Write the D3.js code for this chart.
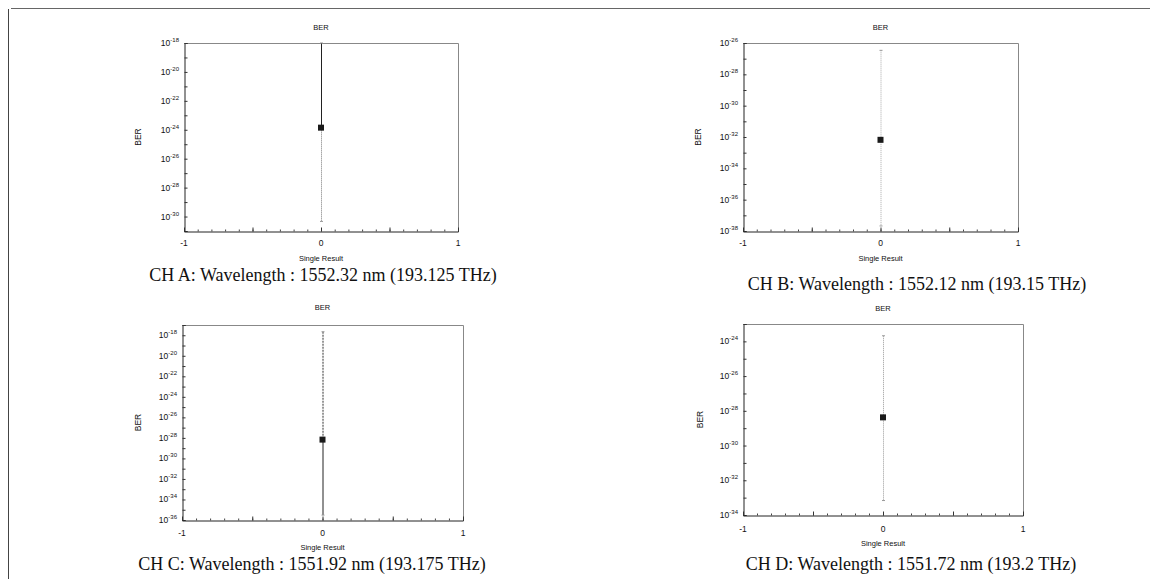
<!DOCTYPE html>
<html>
<head>
<meta charset="utf-8">
<script src="https://cdn.jsdelivr.net/npm/d3@7"></script>
<style>
  html, body { margin: 0; padding: 0; background: #fff; }
  svg { display: block; }
  .lbl { font-family: Arial, "Liberation Sans", sans-serif; fill: #111; }
  .cap { font-family: "Liberation Serif", "Times New Roman", serif; fill: #111; }
</style>
</head>
<body>
<svg id="chart" width="1157" height="579"></svg>
<script>
// Four channels, one BER measurement each, with its spread as an error bar
const channels = ["CH A", "CH B", "CH C", "CH D"];
const wavelengths = ["1552.32", "1552.12", "1551.92", "1551.72"];
const frequencies = ["193.125", "193.15", "193.175", "193.2"];
const xValue = [0, 0, 0, 0];
const berValues = [1.4e-24, 6.6e-33, 6.8e-29, 4.2e-29];
const berUpper = [1e-18, 3.4e-27, 2.2e-18, 2.1e-24];
const berLower = [4.6e-31, 2.1e-38, 3.0e-36, 6.8e-34];

// Log-axis extents (powers of ten) and the labelled exponents of each panel
const yMinExp = [-31, -38, -36, -34];
const yMaxExp = [-18, -26, -17, -23];
const yLabelExpsA = [-30, -28, -26, -24, -22, -20, -18];
const yLabelExpsB = [-38, -36, -34, -32, -30, -28, -26];
const yLabelExpsC = [-36, -34, -32, -30, -28, -26, -24, -22, -20, -18];
const yLabelExpsD = [-34, -32, -30, -28, -26, -24];
const xTickLabels = [-1, 0, 1];

// Plot boxes
const boxes = [
  { l: 184, r: 458, t: 43, b: 231, title: 30, tick: 246, xt: 261, ylx: 141, cx: 323, cy: 281 },
  { l: 743, r: 1018, t: 43, b: 231, title: 30, tick: 246, xt: 261, ylx: 701, cx: 917, cy: 290 },
  { l: 182, r: 463, t: 325, b: 520, title: 310, tick: 536, xt: 550, ylx: 141, cx: 312, cy: 570 },
  { l: 743, r: 1023, t: 324, b: 515, title: 311, tick: 532, xt: 546, ylx: 703, cx: 911, cy: 570 }
];
const barStyles = [
  { upper: "#222", lower: "#777", dashU: null, dashL: "1,1" },
  { upper: "#aaa", lower: "#aaa", dashU: "1,1", dashL: "1,1" },
  { upper: "#333", lower: "#222", dashU: "2,1", dashL: null },
  { upper: "#999", lower: "#999", dashU: "1,1", dashL: "1,1" }
];
const labelSets = [yLabelExpsA, yLabelExpsB, yLabelExpsC, yLabelExpsD];

const svg = d3.select("#chart");

// Page frame
svg.append("line").attr("x1", 11).attr("x2", 1150).attr("y1", 8.5).attr("y2", 8.5)
  .attr("stroke", "#666").attr("stroke-width", 1);
svg.append("line").attr("x1", 8.5).attr("x2", 8.5).attr("y1", 9).attr("y2", 579)
  .attr("stroke", "#444").attr("stroke-width", 1);

channels.forEach((ch, i) => {
  const bx = boxes[i];
  const g = svg.append("g");
  const x = d3.scaleLinear().domain([-1, 1]).range([bx.l, bx.r]);
  const y = d3.scaleLog().domain([10 ** yMinExp[i], 10 ** yMaxExp[i]]).range([bx.b, bx.t]);

  // top and right border
  g.append("path")
    .attr("d", `M${bx.l},${bx.t + 0.5}H${bx.r + 0.5}V${bx.b}`)
    .attr("fill", "none").attr("stroke", "#888").attr("stroke-width", 1);

  // y axis: every decade gets a small inward tick
  const allExps = d3.range(yMinExp[i], yMaxExp[i] + 1);
  const yMinor = d3.axisLeft(y).tickValues(allExps.map(e => 10 ** e)).tickSize(-3).tickFormat("");
  const yAxis = g.append("g").attr("transform", `translate(${bx.l + 0.5},0)`).call(yMinor);
  yAxis.select(".domain").attr("stroke", "#222");
  yAxis.selectAll(".tick line").attr("stroke", "#333");

  // y tick labels as 10 with a superscript exponent
  labelSets[i].forEach(e => {
    const t = g.append("text").attr("class", "lbl")
      .attr("x", bx.l - 5).attr("y", y(10 ** e) + 3)
      .attr("text-anchor", "end").attr("font-size", 8.5);
    t.append("tspan").text("10");
    t.append("tspan").attr("dy", -4).attr("font-size", 6).text(String(e));
  });

  // x axis with inward minor ticks
  const xMinor = d3.axisBottom(x).tickValues(d3.range(-10, 11).map(k => k / 10))
    .tickSize(-2).tickFormat("");
  const xAxis = g.append("g").attr("transform", `translate(0,${bx.b + 0.5})`).call(xMinor);
  xAxis.select(".domain").attr("stroke", "#222");
  xAxis.selectAll(".tick line").attr("stroke", "#444");
  const xMajor = d3.axisBottom(x).tickValues([-1, -0.5, 0, 0.5, 1]).tickSize(-4).tickFormat("");
  const xAxis2 = g.append("g").attr("transform", `translate(0,${bx.b + 0.5})`).call(xMajor);
  xAxis2.select(".domain").remove();
  xAxis2.selectAll(".tick line").attr("stroke", "#333");

  xTickLabels.forEach(v => {
    g.append("text").attr("class", "lbl").attr("x", x(v)).attr("y", bx.tick)
      .attr("text-anchor", "middle").attr("font-size", 8.5).text(String(v));
  });

  // titles
  g.append("text").attr("class", "lbl").attr("x", (bx.l + bx.r) / 2).attr("y", bx.title)
    .attr("text-anchor", "middle").attr("font-size", 7.5).text("BER");
  g.append("text").attr("class", "lbl").attr("x", (bx.l + bx.r) / 2).attr("y", bx.xt)
    .attr("text-anchor", "middle").attr("font-size", 7.5).text("Single Result");
  g.append("text").attr("class", "lbl")
    .attr("transform", `translate(${bx.ylx},${(bx.t + bx.b) / 2}) rotate(-90)`)
    .attr("text-anchor", "middle").attr("font-size", 8.5).text("BER");

  // error bar
  const st = barStyles[i];
  const cx = x(xValue[i]) + 0.5;
  g.append("line").attr("x1", cx).attr("x2", cx)
    .attr("y1", y(berUpper[i])).attr("y2", y(berValues[i]))
    .attr("stroke", st.upper).attr("stroke-width", 1)
    .attr("stroke-dasharray", st.dashU);
  g.append("line").attr("x1", cx).attr("x2", cx)
    .attr("y1", y(berValues[i])).attr("y2", y(berLower[i]))
    .attr("stroke", st.lower).attr("stroke-width", 1)
    .attr("stroke-dasharray", st.dashL);
  [berUpper[i], berLower[i]].forEach(v => {
    g.append("line").attr("x1", cx - 1.5).attr("x2", cx + 1.5)
      .attr("y1", y(v)).attr("y2", y(v)).attr("stroke", "#999").attr("stroke-width", 1);
  });

  // measured value
  g.append("rect").attr("x", x(xValue[i]) - 3).attr("y", y(berValues[i]) - 3)
    .attr("width", 6).attr("height", 6).attr("fill", "#1a1a1a");

  // channel caption
  g.append("text").attr("class", "cap").attr("x", bx.cx).attr("y", bx.cy)
    .attr("text-anchor", "middle").attr("font-size", 18)
    .text(`${ch}: Wavelength : ${wavelengths[i]} nm (${frequencies[i]} THz)`);
});
</script>
</body>
</html>
